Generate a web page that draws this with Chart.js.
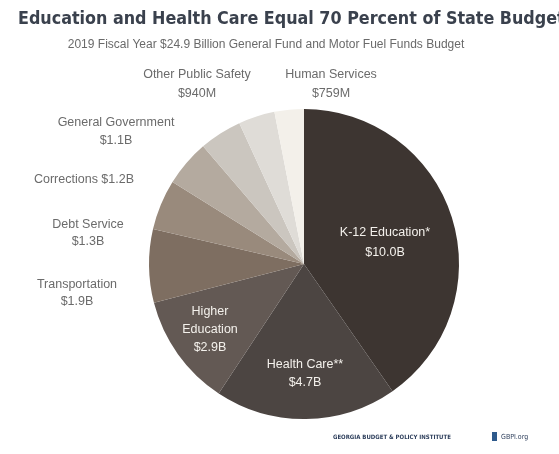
<!DOCTYPE html>
<html>
<head>
<meta charset="utf-8">
<script src="https://cdn.jsdelivr.net/npm/chart.js@4/dist/chart.umd.min.js"></script>
<style>
    html, body { margin: 0; padding: 0; background: #fff; }
    #wrap { width: 559px; height: 454px; position: relative; overflow: hidden; }
</style>
</head>
<body>
<div id="wrap"><canvas id="budgetChart" width="559" height="454"></canvas></div>
<script>
// FY2019 budget by area (billions)
const categories = ['K-12 Education*', 'Health Care**', 'Higher Education', 'Transportation',
    'Debt Service', 'Corrections', 'General Government', 'Other Public Safety', 'Human Services'];
const amounts = [10.0, 4.7, 2.9, 1.9, 1.3, 1.2, 1.1, 0.94, 0.759];
const amountLabels = ['$10.0B', '$4.7B', '$2.9B', '$1.9B', '$1.3B', '$1.2B', '$1.1B', '$940M', '$759M'];
const sliceColors = ['#3d3531', '#4c4542', '#635954', '#7e6e61', '#998a7c', '#b4aa9f',
    '#cbc6bf', '#dfdcd7', '#f3f0ea'];

const titleText = 'Education and Health Care Equal 70 Percent of State Budget';
const subtitleText = '2019 Fiscal Year $24.9 Billion General Fund and Motor Fuel Funds Budget';

// label placement, one entry per slice (same order as categories)
const labelLayout = [
    { split: false, x: 385, y: 233, step: 20, inside: true },
    { split: false, x: 305, y: 365, step: 18, inside: true },
    { split: true,  x: 210, y: 312, step: 18, inside: true },
    { split: false, x: 77,  y: 285, step: 17 },
    { split: false, x: 88,  y: 225, step: 17 },
    { oneLine: true, x: 84, y: 180 },
    { split: false, x: 116, y: 123, step: 18 },
    { split: false, x: 197, y: 75,  step: 19 },
    { split: false, x: 331, y: 75,  step: 19 }
];

function labelLines(i) {
    const l = labelLayout[i];
    if (l.oneLine) return [categories[i] + ' ' + amountLabels[i]];
    const name = l.split ? categories[i].split(' ') : [categories[i]];
    return name.concat([amountLabels[i]]);
}

const annotations = {
    id: 'annotations',
    afterDraw(chart) {
        const ctx = chart.ctx;
        ctx.save();
        ctx.textBaseline = 'middle';

        // title, sized so it runs just past the right edge like the original
        let size = 20;
        const tf = s => 'bold ' + s + 'px "DejaVu Sans Condensed", "DejaVu Sans"';
        ctx.font = tf(size);
        while (ctx.measureText(titleText).width > 547 && size > 10) {
            size -= 0.25;
            ctx.font = tf(size);
        }
        ctx.fillStyle = '#3a414d';
        ctx.textAlign = 'left';
        ctx.fillText(titleText, 18, 19);

        let ss = 12;
        const sf = s => s + 'px "Liberation Sans Narrow", "Liberation Sans"';
        ctx.font = sf(ss);
        while (ctx.measureText(subtitleText).width > 408 && ss > 7) {
            ss -= 0.25;
            ctx.font = sf(ss);
        }
        ctx.fillStyle = '#6a6a6a';
        ctx.textAlign = 'center';
        ctx.fillText(subtitleText, 266, 45);

        labelLayout.forEach((l, i) => {
            ctx.fillStyle = l.inside ? '#f4f1ec' : '#6b6b6b';
            ctx.font = '12.5px "Liberation Sans", Arial';
            labelLines(i).forEach((t, k) => ctx.fillText(t, l.x, l.y + k * (l.step || 0)));
        });

        // footer
        ctx.textAlign = 'left';
        ctx.font = 'bold 6px "DejaVu Sans Condensed"';
        ctx.fillStyle = '#2e3f5c';
        ctx.fillText('GEORGIA BUDGET & POLICY INSTITUTE', 333, 437);
        ctx.fillStyle = '#2e5a8c';
        ctx.fillRect(492, 432, 5, 9);
        ctx.font = '7px "DejaVu Sans Condensed"';
        ctx.fillStyle = '#2e3f5c';
        ctx.fillText('GBPI.org', 501, 437);
        ctx.restore();
    }
};

new Chart(document.getElementById('budgetChart'), {
    type: 'pie',
    data: {
        labels: categories,
        datasets: [{
            data: amounts,
            backgroundColor: sliceColors,
            borderWidth: 0
        }]
    },
    options: {
        responsive: false,
        animation: false,
        layout: {
            padding: { left: 149, right: 100, top: 109, bottom: 35 }
        },
        plugins: {
            legend: { display: false },
            tooltip: { enabled: false }
        }
    },
    plugins: [annotations]
});
</script>
</body>
</html>
